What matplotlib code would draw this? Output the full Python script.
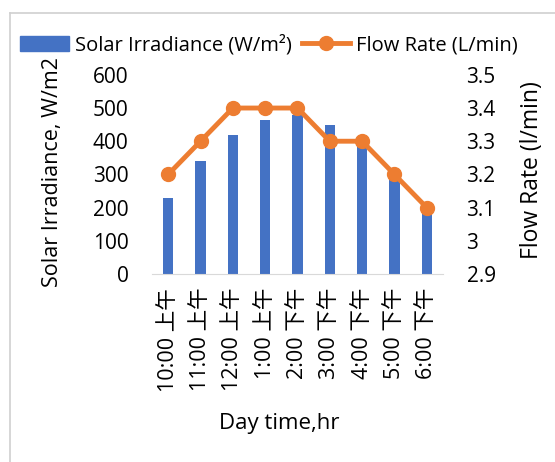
import matplotlib.pyplot as plt
from matplotlib.patches import Patch
from matplotlib.lines import Line2D

plt.rcParams['font.family'] = ['Open Sans', 'Noto Sans CJK SC', 'DejaVu Sans']

times = ['10:00 上午', '11:00 上午', '12:00 上午', '1:00 上午', '2:00 下午',
         '3:00 下午', '4:00 下午', '5:00 下午', '6:00 下午']
irradiance = [230, 340, 420, 465, 480, 450, 390, 290, 190]
flow_rate = [3.2, 3.3, 3.4, 3.4, 3.4, 3.3, 3.3, 3.2, 3.1]

blue = '#4472C4'
orange = '#ED7D31'

fig = plt.figure(figsize=(5.55, 4.62), dpi=100)
ax = fig.add_axes([0.274, 0.407, 0.524, 0.431])
ax2 = ax.twinx()

x = range(len(times))
ax.bar(x, irradiance, width=0.32, color=blue, zorder=2)
ax2.plot(x, flow_rate, color=orange, lw=3.5, marker='o', markersize=10, zorder=3)

ax.set_ylim(0, 600)
ax.set_yticks(range(0, 601, 100))
ax2.set_ylim(2.9, 3.5)
ax2.set_yticks([2.9, 3.0, 3.1, 3.2, 3.3, 3.4, 3.5])
ax2.set_yticklabels(['2.9', '3', '3.1', '3.2', '3.3', '3.4', '3.5'])
ax.set_xlim(-0.5, len(times) - 0.5)
ax.set_xticks(list(x))
ax.set_xticklabels(times, rotation=90)

for a in (ax, ax2):
    for s in a.spines.values():
        s.set_visible(False)
    a.tick_params(length=0, labelsize=15)
ax.spines['bottom'].set_visible(True)
ax.spines['bottom'].set_color('#D9D9D9')
ax.tick_params(axis='y', pad=17)
ax2.tick_params(axis='y', pad=17)
ax.tick_params(axis='x', pad=10, labelsize=15.5)

ax.set_ylabel('Solar Irradiance, W/m2', fontsize=15.5)
ax2.set_ylabel('Flow Rate (l/min)', fontsize=16.5)
ax.set_xlabel('Day time,hr', fontsize=16)
ax.yaxis.set_label_coords(-0.306, 0.51)
ax2.yaxis.set_label_coords(1.265, 0.52)
ax.xaxis.set_label_coords(0.437, -0.698)

handles = [Patch(color=blue),
           Line2D([0], [0], color=orange, lw=3.5, marker='o', markersize=10)]
fig.legend(handles, ['Solar Irradiance (W/m²)', 'Flow Rate (L/min)'],
           loc='center', bbox_to_anchor=(0.485, 0.902), ncol=2, frameon=False,
           fontsize=14.5, handlelength=2.4, handletextpad=0.3, columnspacing=0.5)

# light grey chart border, cut off on the right and bottom
bx = 9.5 / 555
by = 1 - 12.5 / 462
fig.add_artist(Line2D([bx, bx], [0, by], transform=fig.transFigure,
                      color='#D0D0D0', lw=1.2))
fig.add_artist(Line2D([bx, 1], [by, by], transform=fig.transFigure,
                      color='#D0D0D0', lw=1.2))

fig.savefig('out.png', dpi=100)
